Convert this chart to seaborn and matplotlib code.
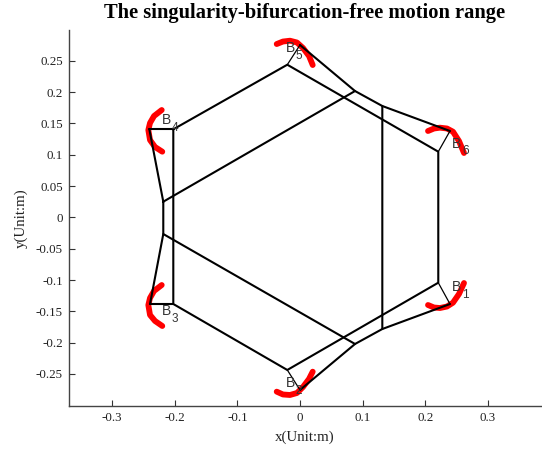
import matplotlib
matplotlib.use("Agg")
import matplotlib.pyplot as plt
import seaborn as sns

x_ticks = [-0.3, -0.2, -0.1, 0, 0.1, 0.2, 0.3]
x_tick_labels = ["-0.3", "-0.2", "-0.1", "0", "0.1", "0.2", "0.3"]
y_ticks = [-0.25, -0.2, -0.15, -0.1, -0.05, 0, 0.05, 0.1, 0.15, 0.2, 0.25]
y_tick_labels = ["-0.25", "-0.2", "-0.15", "-0.1", "-0.05", "0", "0.05", "0.1", "0.15", "0.2", "0.25"]

# fixed hexagon, closed
hex_x = [-0.2024, -0.0203, 0.2209, 0.2209, -0.0203, -0.2024, -0.2024]
hex_y = [0.1405, 0.2436, 0.1048, -0.1043, -0.2436, -0.1383, 0.1405]

# moving platform, closed
plat_x = [-0.2184, 0.0879, 0.1315, 0.1315, 0.0879, -0.2184, -0.2184]
plat_y = [0.025, 0.2016, 0.1777, -0.1782, -0.2021, -0.0266, 0.025]

# outer joints B1..B6 and matching hexagon / platform vertices
outer_x = [0.2396, 0.0, -0.2396, -0.2407, 0.0, 0.2396]
outer_y = [-0.1383, -0.2755, -0.1383, 0.1405, 0.2751, 0.1378]
base_x = [0.2209, -0.0203, -0.2024, -0.2024, -0.0203, 0.2209]
base_y = [-0.1043, -0.2436, -0.1383, 0.1405, 0.2436, 0.1048]
end_x = [0.1315, 0.0879, -0.2184, -0.2184, 0.0879, 0.1315]
end_y = [-0.1782, -0.2021, -0.0266, 0.025, 0.2016, 0.1777]

# red motion range arcs
arc1_x = [0.2045, 0.2141, 0.2236, 0.2348, 0.2444, 0.254, 0.262]
arc1_y = [-0.1399, -0.1439, -0.1447, -0.1423, -0.1362, -0.1223, -0.1048]
arc2_x = [-0.0372, -0.0272, -0.016, -0.0048, 0.0048, 0.0144, 0.0203]
arc2_y = [-0.2782, -0.2827, -0.2835, -0.2803, -0.2707, -0.2579, -0.2463]
arc3_x = [-0.2209, -0.2332, -0.2396, -0.2423, -0.2396, -0.2316, -0.22]
arc3_y = [-0.108, -0.1175, -0.1287, -0.1399, -0.1558, -0.1654, -0.1734]
arc4_x = [-0.2209, -0.2332, -0.2396, -0.2423, -0.2396, -0.2316, -0.22]
arc4_y = [0.1713, 0.1617, 0.1506, 0.1394, 0.1234, 0.1123, 0.1048]
arc5_x = [-0.0372, -0.0272, -0.016, -0.0048, 0.0048, 0.0144, 0.0203]
arc5_y = [0.2766, 0.2806, 0.2819, 0.279, 0.2703, 0.2575, 0.2431]
arc6_x = [0.2045, 0.2141, 0.2236, 0.2348, 0.2444, 0.254, 0.262]
arc6_y = [0.1378, 0.1418, 0.1431, 0.1418, 0.1367, 0.1218, 0.1027]

label_names = ["1", "2", "3", "4", "5", "6"]
label_x = [0.2423, -0.0228, -0.2209, -0.2209, -0.0228, 0.2433]
label_y = [-0.1175, -0.2707, -0.1558, 0.149, 0.2634, 0.1112]

W, H = 542, 449


def draw(ax, xs, ys, color="black", lw=1.5, **kwargs):
    sns.lineplot(x=xs, y=ys, sort=False, estimator=None, color=color, lw=lw, ax=ax, legend=False, **kwargs)


sns.set_theme(style="ticks")
plt.rcParams["font.family"] = "Liberation Serif"

fig = plt.figure(figsize=(W / 100, H / 100), dpi=100)
ax = fig.add_axes([68.7 / W, 1 - 405.7 / H, (541 - 68.7) / W, (405.7 - 30) / H])

arcs = [(arc1_x, arc1_y), (arc2_x, arc2_y), (arc3_x, arc3_y), (arc4_x, arc4_y), (arc5_x, arc5_y), (arc6_x, arc6_y)]
for ax_, ay_ in arcs:
    draw(ax, ax_, ay_, color="#ff0000", lw=4.2, solid_capstyle="round", solid_joinstyle="round")

draw(ax, hex_x, hex_y)
draw(ax, plat_x, plat_y)
for i in range(6):
    draw(ax, [outer_x[i], end_x[i]], [outer_y[i], end_y[i]])
    draw(ax, [base_x[i], outer_x[i]], [base_y[i], outer_y[i]], lw=0.9 if i not in (2, 3) else 1.5)

for name, lx, ly in zip(label_names, label_x, label_y):
    ax.text(lx, ly, "B", fontsize=10, family="Liberation Sans", color="#333333", va="baseline", ha="left")
    ax.annotate(name, (lx, ly), xytext=(7.2, -4.8), textcoords="offset points", fontsize=8.5,
                family="Liberation Sans", color="#333333", va="baseline", ha="left")

ax.set_xlim(-0.3695, 0.385)
ax.set_ylim(-0.3006, 0.299)
ax.set_xticks(x_ticks, x_tick_labels)
ax.set_yticks(y_ticks, y_tick_labels)
ax.tick_params(direction="in", length=4, width=0.8, color="#333333", labelsize=9.4, labelcolor="#222222")
ax.tick_params(axis="x", pad=4.5)
ax.tick_params(axis="y", pad=4.3)
for side in ["top", "right"]:
    ax.spines[side].set_visible(False)
for side in ["left", "bottom"]:
    ax.spines[side].set_color("#444444")
    ax.spines[side].set_linewidth(1.0)

fig.text(304.7 / W, 1 - 18 / H, "The singularity-bifurcation-free motion range", fontsize=14.8, fontweight="bold", ha="center", va="baseline", color="black")
fig.text(304.7 / W, 1 - 437.5 / H, "x(Unit:m)", fontsize=10.8, ha="center", va="center", color="#222222")
fig.text(21.5 / W, 1 - 218 / H, "y(Unit:m)", fontsize=10.8, rotation=90, ha="center", va="center", color="#222222")

fig.savefig("out.png", dpi=100)
